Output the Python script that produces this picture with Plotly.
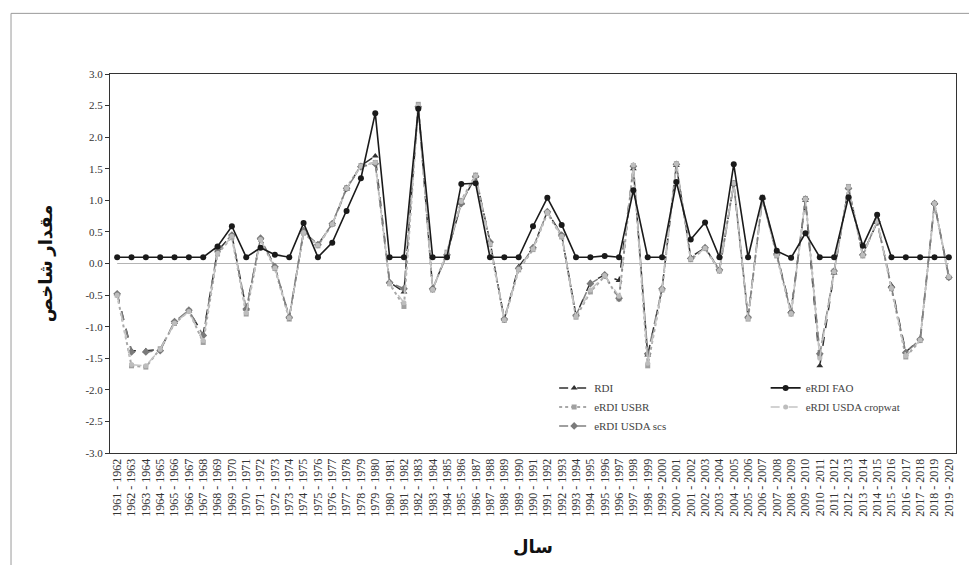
import plotly.graph_objects as go

# Water years 1961-1962 ... 2019-2020
years = [f"{y} - {y + 1}" for y in range(1961, 2020)]

rdi = [-0.48, -1.38, -1.38, -1.36, -0.93, -0.75, -1.12, 0.20, 0.45, -0.72,
       0.40, -0.05, -0.85, 0.50, 0.30, 0.62, 1.18, 1.55, 1.70, -0.30,
       -0.45, 2.48, -0.40, 0.15, 0.95, 1.38, 0.35, -0.88, -0.05, 0.25,
       0.82, 0.45, -0.82, -0.30, -0.18, -0.27, 1.50, -1.45, -0.40, 1.55,
       0.10, 0.25, -0.10, 1.25, -0.85, 1.03, 0.15, -0.75, 1.00, -1.62,
       -0.15, 1.20, 0.15, 0.65, -0.35, -1.40, -1.20, 0.95, -0.20]
erdi_usbr = [-0.50, -1.62, -1.64, -1.35, -0.95, -0.75, -1.25, 0.15, 0.42, -0.80,
             0.38, -0.08, -0.88, 0.48, 0.28, 0.62, 1.20, 1.55, 1.60, -0.32,
             -0.68, 2.52, -0.42, 0.18, 1.00, 1.40, 0.30, -0.90, -0.10, 0.22,
             0.80, 0.42, -0.85, -0.45, -0.20, -0.56, 1.55, -1.62, -0.42, 1.58,
             0.06, 0.24, -0.12, 1.28, -0.88, 1.05, 0.12, -0.80, 1.03, -1.45,
             -0.12, 1.22, 0.12, 0.68, -0.40, -1.48, -1.22, 0.95, -0.22]
erdi_usda_scs = [-0.48, -1.40, -1.40, -1.38, -0.92, -0.74, -1.14, 0.22, 0.45, -0.72,
                 0.40, -0.05, -0.85, 0.52, 0.30, 0.63, 1.19, 1.53, 1.58, -0.30,
                 -0.40, 2.48, -0.40, 0.14, 0.95, 1.38, 0.34, -0.88, -0.08, 0.25,
                 0.82, 0.45, -0.82, -0.32, -0.18, -0.55, 1.54, -1.43, -0.40, 1.57,
                 0.08, 0.25, -0.10, 1.26, -0.85, 1.03, 0.15, -0.78, 1.02, -1.43,
                 -0.12, 1.19, 0.14, 0.66, -0.38, -1.41, -1.20, 0.95, -0.22]
erdi_fao = [0.10, 0.10, 0.10, 0.10, 0.10, 0.10, 0.10, 0.27, 0.59, 0.10,
            0.25, 0.14, 0.10, 0.64, 0.10, 0.33, 0.83, 1.35, 2.38, 0.10,
            0.10, 2.45, 0.10, 0.10, 1.26, 1.27, 0.10, 0.10, 0.10, 0.59,
            1.04, 0.61, 0.10, 0.10, 0.12, 0.10, 1.16, 0.10, 0.10, 1.29,
            0.38, 0.65, 0.10, 1.57, 0.10, 1.04, 0.20, 0.09, 0.48, 0.10,
            0.10, 1.05, 0.28, 0.77, 0.10, 0.10, 0.10, 0.10, 0.10]
erdi_usda_cropwat = [-0.50, -1.60, -1.62, -1.36, -0.94, -0.76, -1.22, 0.16, 0.43, -0.78,
                     0.38, -0.07, -0.86, 0.49, 0.29, 0.62, 1.19, 1.54, 1.60, -0.32,
                     -0.62, 2.50, -0.41, 0.17, 0.98, 1.39, 0.31, -0.89, -0.09, 0.23,
                     0.81, 0.43, -0.84, -0.42, -0.19, -0.52, 1.56, -1.58, -0.41, 1.58,
                     0.07, 0.24, -0.11, 1.27, -0.87, 1.04, 0.13, -0.79, 1.02, -1.50,
                     -0.13, 1.21, 0.13, 0.67, -0.39, -1.46, -1.21, 0.95, -0.21]

yticks = [-3.0, -2.5, -2.0, -1.5, -1.0, -0.5, 0.0, 0.5, 1.0, 1.5, 2.0, 2.5, 3.0]

serif = "Liberation Serif, Times New Roman, serif"

fig = go.Figure()

# reference line at zero
fig.add_trace(go.Scatter(x=[years[0], years[-1]], y=[0, 0], mode="lines",
                         line=dict(color="#b4b4b4", width=1), showlegend=False,
                         hoverinfo="skip", cliponaxis=False))

fig.add_trace(go.Scatter(x=years, y=rdi, name="RDI", mode="lines+markers",
                         line=dict(color="#303030", width=1.5, dash="dash"),
                         marker=dict(symbol="triangle-up", size=6, color="#303030"),
                         legend="legend"))
fig.add_trace(go.Scatter(x=years, y=erdi_usbr, name="eRDI USBR", mode="lines+markers",
                         line=dict(color="#a8a8a8", width=2, dash="dot"),
                         marker=dict(symbol="square", size=5, color="#a0a0a0"),
                         legend="legend"))
fig.add_trace(go.Scatter(x=years, y=erdi_usda_scs, name="eRDI USDA scs", mode="lines+markers",
                         line=dict(color="#808080", width=1.5, dash="dash"),
                         marker=dict(symbol="diamond", size=6, color="#7a7a7a"),
                         legend="legend"))
fig.add_trace(go.Scatter(x=years, y=erdi_usda_cropwat, name="eRDI USDA cropwat",
                         mode="lines+markers",
                         line=dict(color="#c4c4c4", width=1.5, dash="dash"),
                         marker=dict(symbol="circle", size=5, color="#bdbdbd"),
                         legend="legend2"))
fig.add_trace(go.Scatter(x=years, y=erdi_fao, name="eRDI FAO", mode="lines+markers",
                         line=dict(color="#1a1a1a", width=1.6),
                         marker=dict(symbol="circle", size=6, color="#1a1a1a"),
                         legend="legend2"))

fig.update_layout(
    width=969, height=565,
    margin=dict(l=110, r=13, t=74, b=112),
    paper_bgcolor="white", plot_bgcolor="white",
    font=dict(family=serif, color="#333333", size=10),
    legend=dict(x=0.525, y=0.21, xanchor="left", yanchor="top",
                bgcolor="rgba(0,0,0,0)", font=dict(size=11, family=serif, color="#444"),
                tracegroupgap=0, itemwidth=30),
    legend2=dict(x=0.775, y=0.21, xanchor="left", yanchor="top",
                 bgcolor="rgba(0,0,0,0)", font=dict(size=11, family=serif, color="#444"),
                 traceorder="reversed", tracegroupgap=0, itemwidth=30),
    xaxis=dict(type="category", categoryorder="array", categoryarray=years,
               range=[-0.5, len(years) - 0.5], tickangle=-90,
               showline=True, linecolor="#333", linewidth=1, mirror=True,
               showgrid=False, ticks="", tickfont=dict(size=12, family=serif),
               title=dict(text="<b>سال</b>", standoff=24,
                          font=dict(size=18, family="Noto Sans, DejaVu Sans", color="#111"))),
    yaxis=dict(range=[-3.0, 3.0], tickvals=yticks,
               ticktext=[f"{v:.1f}" for v in yticks],
               showline=True, linecolor="#333", linewidth=1, mirror=True,
               showgrid=False, zeroline=False, ticks="outside", ticklen=4,
               tickcolor="#333", tickfont=dict(size=11, family=serif),
               title=dict(text="<b>مقدار شاخص</b>", standoff=28,
                          font=dict(size=18, family="Noto Sans, DejaVu Sans", color="#111"))),
    shapes=[dict(type="rect", xref="paper", yref="paper",
                 x0=-0.117, x1=1.02, y0=-0.33, y1=1.16,
                 line=dict(color="#9a9a9a", width=1), fillcolor="rgba(0,0,0,0)",
                 layer="below")],
)

fig.write_html("out.html")
